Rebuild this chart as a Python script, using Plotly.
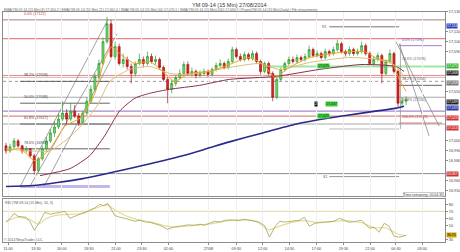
import plotly.graph_objects as go

W, H = 460, 252

# ---------------- data ----------------
bar_idx = list(range(100))
opens = [16995,16990,16994,17000,16995,16990,16992,16985,16970,16982,
         16992,17000,17008,17014,17022,17028,17022,17030,17025,17018,
         17028,17040,17052,17065,17078,17100,17118,17085,17095,17078,
         17082,17075,17068,17078,17082,17078,17085,17080,17082,17074,
         17062,17052,17058,17064,17068,17077,17068,17070,17066,17068,
         17070,17067,17072,17076,17078,17074,17080,17092,17085,17082,
         17087,17083,17088,17080,17070,17078,17068,17044,17062,17072,
         17078,17082,17080,17084,17082,17085,17092,17086,17088,17084,
         17090,17088,17092,17098,17090,17088,17092,17088,17090,17096,
         17088,17078,17082,17086,17068,17080,17088,17070,17038,17040]
closes = [16990,16994,17000,16995,16990,16992,16985,16970,16982,16992,
          17000,17008,17014,17022,17028,17022,17030,17025,17018,17028,
          17040,17052,17065,17078,17100,17118,17085,17095,17078,17082,
          17075,17068,17078,17082,17078,17085,17080,17082,17074,17062,
          17052,17058,17064,17068,17077,17068,17070,17066,17068,17070,
          17067,17072,17076,17078,17074,17080,17092,17085,17082,17087,
          17083,17088,17080,17070,17078,17068,17044,17062,17072,17078,
          17082,17080,17084,17082,17085,17092,17086,17088,17084,17090,
          17088,17092,17098,17090,17088,17092,17088,17090,17096,17088,
          17078,17082,17086,17068,17080,17088,17070,17038,17040,17042]
highs = [16998,16997,17003,17002,16996,16995,16993,16987,16984,16995,
         17004,17012,17020,17028,17040,17032,17038,17036,17028,17030,
         17044,17056,17068,17082,17104,17125,17122,17100,17098,17088,
         17085,17078,17080,17088,17085,17090,17088,17086,17084,17076,
         17064,17062,17066,17072,17080,17080,17074,17072,17071,17073,
         17072,17074,17079,17082,17080,17083,17095,17094,17088,17090,
         17089,17091,17090,17082,17080,17080,17070,17064,17074,17080,
         17085,17085,17087,17086,17088,17096,17094,17091,17090,17093,
         17092,17095,17102,17100,17092,17095,17094,17093,17100,17098,
         17090,17085,17089,17088,17082,17092,17090,17072,17044,17045]
lows = [16987,16988,16992,16993,16987,16988,16983,16966,16968,16980,
        16990,16998,17004,17012,17020,17016,17020,17023,17015,17016,
        17026,17038,17050,17062,17076,17098,17083,17082,17076,17074,
        17072,17058,17065,17076,17074,17076,17078,17077,17072,17060,
        17038,17048,17055,17062,17066,17066,17065,17063,17064,17066,
        17064,17065,17070,17074,17072,17072,17078,17083,17080,17080,
        17081,17081,17078,17067,17068,17066,17040,17042,17060,17070,
        17076,17078,17078,17080,17080,17083,17084,17084,17082,17082,
        17085,17086,17090,17088,17085,17086,17086,17086,17088,17086,
        17076,17076,17080,17058,17066,17078,17068,17034,17034,17036]

# moving averages (bar index, price)
sma200_x = [0, 6.7, 19, 31.4, 43.7, 49.6, 55.3, 63.5, 71.9, 80, 88.1, 96.5, 98.5]
sma200_v = [16954, 16955, 16962, 16973, 16985, 16992, 16999, 17008, 17017, 17023, 17028, 17033, 17035]
sma50_x = [8.4, 15.8, 20.7, 24.4, 28.1, 31.9, 35.6, 40.5, 47.9, 55.3, 66.9, 77.5, 88.1, 96.5, 98.5]
sma50_v = [16965, 16972, 16985, 17005, 17030, 17043, 17048, 17052, 17056, 17062, 17065, 17072, 17077, 17075, 17070]
ema8_x = [0, 3.5, 7.2, 10.9, 14.6, 18.3, 22, 24.4, 26.2, 28.1, 31.9, 35.6, 39.3, 41.7, 45.4, 50.4,
          55.3, 60.2, 64, 66.4, 70.1, 75.1, 82.5, 88.6, 92.3, 95.3, 97.3, 99]
ema8_v = [16990, 16992, 16980, 16992, 17015, 17023, 17048, 17082, 17095, 17088, 17078, 17080, 17068, 17060,
          17068, 17070, 17077, 17084, 17076, 17064, 17074, 17084, 17089, 17090, 17082, 17080, 17062, 17050]
ema21_x = [0, 5.9, 10.9, 14.6, 18.3, 22.5, 25.7, 30.6, 35.6, 40.5, 45.4, 55.3, 62.7, 67.7, 75.1, 84.9, 92.3, 96, 99]
ema21_v = [16992, 16990, 16990, 17000, 17014, 17035, 17060, 17072, 17075, 17068, 17067, 17074, 17078, 17072,
           17079, 17084, 17082, 17077, 17062]

# oscillator (lower panel)
osc_x = [0, 1, 2, 3, 5, 6, 7, 8, 9.6, 11, 12, 13, 14.6, 15.8, 17, 18.3, 19.5, 20.7, 22, 23.2,
         24.2, 25.2, 26.9, 28, 29.4, 30.5, 31.9, 33.1, 34.5, 35.6, 37, 38, 40, 41.5, 43, 45, 46.7, 48, 49.1, 50.5,
         51.6, 53, 54.1, 56, 57.5, 59, 61, 62.7, 64, 65.2, 66.5, 67.7, 69, 70.1, 71.5, 72.6, 73.8, 75.1, 76.3, 77.5,
         79, 81.2, 82.5, 83.7, 84.9, 86.5, 87.9, 89, 89.9, 91.1, 92.3, 93.6, 94.8, 96, 97.3, 98.2, 99]
osc_v = [54.7, 60, 67.2, 63, 61.7, 55, 43.6, 52, 68.6, 66, 67.2, 68, 70, 60.3, 63, 65.8, 68, 71.4, 75, 79.7,
         78, 81.1, 64.4, 62, 60.3, 58, 56.1, 57.5, 55, 54.7, 52, 50.6, 45, 48, 49.2, 51, 50.6, 52, 50.6, 54,
         56.1, 55, 57.5, 58, 57, 58.9, 57, 54.7, 50, 33.9, 48, 56.1, 55, 56.1, 57, 57.5, 61.7, 49.2, 53, 54.7,
         55, 56.1, 60.3, 57, 54.7, 56, 57.5, 52, 46.4, 47.8, 40.8, 53.3, 49.2, 35.3, 33.9, 35, 36.7]
sig_x = [0, 3, 6, 8, 10, 13, 16, 19, 22, 25, 27, 30, 33, 36, 39, 42, 46, 50, 54, 58, 62, 65, 68, 71, 74, 77,
         81, 84, 88, 91, 94, 97, 99]
sig_v = [56, 62, 58, 52, 60, 65, 66, 67, 74, 79, 72, 63, 58, 55, 50, 48, 50, 52, 56, 58, 56, 44, 50, 55, 57, 54,
         56, 57, 54, 47, 47, 38, 36]
osc_level = 70
osc_ticks = [30, 40, 50, 60, 70, 80]

# time axis labels
time_pos = [0.5, 7.4, 13.8, 20.5, 27.2, 33.6, 40.2, 50.1, 57, 63.5, 70.1, 76.8, 83.5, 90.1, 96.5, 103]
time_lbl = ["11:00", "13:30", "16:00", "18:30", "21:00", "23:30", "02:00", "27/08",
            "09:30", "12:00", "14:30", "17:00", "19:30", "22:00", "00:30", "03:00"]

# price axis ticks
price_ticks = [16950, 16960, 16970, 16980, 16990, 17000, 17010, 17020, 17030, 17040,
               17050, 17060, 17070, 17080, 17090, 17100, 17110, 17120, 17130]

# full-width horizontal levels
lvl_price = [17122, 17103, 17066, 17064, 17060, 17044, 17030, 17025, 17017, 16967]
lvl_color = ["#a08080", "#e06666", "#e08a8a", "#d7a0a0", "#9a9a9a", "#a8a8a8", "#a58ad0", "#d66a6a", "#a8a8a8", "#8c8c8c"]
lvl_dash = ["solid", "solid", "solid", "solid", "dot", "solid", "solid", "solid", "solid", "solid"]
lvl_width = [1, 1, 1, 0.8, 1, 1, 1.4, 1, 1, 1]

# partial segments (x0, x1, price)
seg_x0 = [62.7, 80, 97.3, 80, 80, 3.5, 3.5, 3.5, 3.5, 3.5, 97.3, 97.3]
seg_x1 = [108.6, 97.3, 107.9, 97.3, 97.3, 25.7, 25.7, 25.7, 25.7, 25.7, 107.9, 107.9]
seg_price = [17075, 17115, 17056, 17012, 16964, 17060, 17038, 17017, 16992, 16954, 17096, 17018]
seg_color = ["#9be39b", "#666666", "#555555", "#b5b5b5", "#8c8c8c", "#555555", "#555555", "#555555",
             "#555555", "#a99ae6", "#a070c8", "#d66a6a"]
seg_width = [2.2, 1, 1, 1, 1, 1, 1, 1, 1, 3, 1, 1]

# diagonal fan lines (x0, p0, x1, p1)
diag_x0 = [3.5, 5.9, 9.4, 96.5, 97.3]
diag_p0 = [16954, 16954, 16954, 17100, 17098]
diag_x1 = [25.2, 27.5, 26.0, 107.2, 104.7]
diag_p1 = [17122, 17108, 17082, 17015, 17005]

# fib labels
fib_x = [4, 4, 4, 4, 4, 97.5, 97.5, 97.5, 97.5, 97.5]
fib_p = [17124, 17062, 17040, 17019, 16994, 17098, 17079, 17058, 17037, 17020]
fib_txt = ["0.0% (17122)", "38.2% (17058)", "50.0% (17038)", "61.8% (17017)", "78.6% (16992)",
           "0.0% (17096)", "23.6% (17078)", "38.2% (17056)", "61.8% (17035)", "100.0% (17018)"]
fib_col = ["#c04040", "#444444", "#444444", "#444444", "#444444",
           "#8050b0", "#666666", "#666666", "#666666", "#c04040"]

# right-axis price tags
tag_price = [17116, 17075, 17068, 17058, 17039, 17033, 17023, 17013, 16967]
tag_color = ["#2a3fbf", "#33b533", "#222222", "#7a7a7a", "#222222", "#2233aa", "#cc3333", "#cc3333", "#cc3333"]

# ---------------- figure ----------------
XR = [-0.74, 108.64]
fig = go.Figure()

fig.add_trace(go.Candlestick(
    x=bar_idx, open=opens, high=highs, low=lows, close=closes,
    increasing=dict(line=dict(color="#2f9a2f", width=0.7), fillcolor="#78d878"),
    decreasing=dict(line=dict(color="#a81515", width=0.7), fillcolor="#d42626"),
    whiskerwidth=0, showlegend=False, xaxis="x", yaxis="y"))

for xs, vs, col, w in [(sma200_x, sma200_v, "#2a2a8a", 1.6),
                       (sma50_x, sma50_v, "#8a3050", 1.0),
                       (ema21_x, ema21_v, "#d8bf7a", 1.0),
                       (ema8_x, ema8_v, "#f0a020", 1.0)]:
    fig.add_trace(go.Scatter(x=xs, y=vs, mode="lines", line=dict(color=col, width=w, shape="spline", smoothing=0.6),
                             showlegend=False, hoverinfo="skip", xaxis="x", yaxis="y"))

fig.add_trace(go.Scatter(x=sig_x, y=sig_v, mode="lines", line=dict(color="#e6dc98", width=1.2, shape="spline", smoothing=0.5),
                         showlegend=False, xaxis="x2", yaxis="y2"))
fig.add_trace(go.Scatter(x=osc_x, y=osc_v, mode="lines", line=dict(color="#a4a25a", width=0.8),
                         showlegend=False, xaxis="x2", yaxis="y2"))

shapes = []
for p, c, d, w in zip(lvl_price, lvl_color, lvl_dash, lvl_width):
    shapes.append(dict(type="line", xref="x domain", yref="y", x0=0, x1=1, y0=p, y1=p,
                       line=dict(color=c, width=w, dash=d), layer="below"))
for x0, x1, p, c, w in zip(seg_x0, seg_x1, seg_price, seg_color, seg_width):
    shapes.append(dict(type="line", xref="x", yref="y", x0=x0, x1=x1, y0=p, y1=p,
                       line=dict(color=c, width=w), opacity=0.9 if w < 3 else 0.7, layer="below"))
for x0, p0, x1, p1 in zip(diag_x0, diag_p0, diag_x1, diag_p1):
    shapes.append(dict(type="line", xref="x", yref="y", x0=x0, x1=x1, y0=p0, y1=p1,
                       line=dict(color="#8a8a8a", width=0.8), layer="below"))
shapes.append(dict(type="line", xref="x", yref="y", x0=97.6, x1=97.6, y0=17098, y1=17012,
                   line=dict(color="#999999", width=0.8), layer="below"))
shapes.append(dict(type="line", xref="x domain", yref="y2", x0=0, x1=1, y0=osc_level, y1=osc_level,
                   line=dict(color="#e2d9a6", width=1), layer="below"))

ann = []
F = "Liberation Sans, Arial, sans-serif"
ann.append(dict(text="YM 09-14 (15 Min) 27/08/2014", x=0.5, y=1 - 3.5 / H, xref="paper", yref="paper",
                showarrow=False, font=dict(size=5.5, color="#333333", family=F), xanchor="center", yanchor="middle"))
ann.append(dict(text="EMA(YM 09-14 (15 Min),8) 17,050.2 | EMA(YM 09-14 (15 Min),21) 17,062.4 | "
                     "SMA(YM 09-14 (15 Min),50) 17,070.1 | SMA(YM 09-14 (15 Min),200) 17,034.9 | "
                     "Pivots(YM 09-14 (15 Min),Daily) | Fib retracements",
                x=2 / W, y=1 - 8.5 / H, xref="paper", yref="paper", showarrow=False,
                font=dict(size=3.4, color="#666666", family=F), xanchor="left", yanchor="middle"))
for x, p, t, c in zip(fib_x, fib_p, fib_txt, fib_col):
    ann.append(dict(text=t, x=x, y=p, xref="x", yref="y", showarrow=False, xanchor="left", yanchor="bottom",
                    font=dict(size=3.6, color=c, family=F)))
for p, c in zip(tag_price, tag_color):
    ann.append(dict(text=f"{p:,}", x=447 / W, y=p, xref="paper", yref="y", showarrow=False, xanchor="left",
                    yanchor="middle", bgcolor=c, borderpad=0, font=dict(size=3.5, color="white", family=F)))
ann.append(dict(text=f"{osc_v[-1]:.2f}", x=447 / W, y=osc_v[-1], xref="paper", yref="y2", showarrow=False,
                xanchor="left", yanchor="middle", bgcolor="#d0a800", borderpad=0,
                font=dict(size=3.5, color="#222222", family=F)))
ann.append(dict(text="R1", x=80, y=17115, xref="x", yref="y", showarrow=False, xanchor="right",
                font=dict(size=3.6, color="#555555", family=F)))
ann.append(dict(text="S1", x=80, y=16964, xref="x", yref="y", showarrow=False, xanchor="right",
                font=dict(size=3.6, color="#555555", family=F)))
for x, p, t in [(78.5, 17075, "17,075"), (80.5, 17037, "17,037"), (78.5, 17025, "17,025")]:
    ann.append(dict(text=t, x=x, y=p, xref="x", yref="y", showarrow=False, bgcolor="#3fcf3f", borderpad=0,
                    font=dict(size=3.6, color="#113311", family=F)))
ann.append(dict(text="2", x=76.8, y=17037, xref="x", yref="y", showarrow=False, bgcolor="#111111", borderpad=0,
                font=dict(size=3.6, color="white", family=F)))
ann.append(dict(text="Time remaining: 00:04:35", x=445 / W, y=1 - 194 / H, xref="paper", yref="paper",
                showarrow=False, xanchor="right", yanchor="middle", bordercolor="#999999", borderwidth=0.5,
                borderpad=0, bgcolor="white", font=dict(size=3.5, color="#444444", family=F)))
ann.append(dict(text="RSI (YM 09-14 (15 Min), 14, 3)", x=3 / W, y=1 - 203 / H, xref="paper", yref="paper",
                showarrow=False, xanchor="left", yanchor="middle", font=dict(size=3.5, color="#555555", family=F)))
ann.append(dict(text="© 2014 NinjaTrader, LLC", x=2 / W, y=1 - 240 / H, xref="paper", yref="paper",
                showarrow=False, xanchor="left", yanchor="middle", font=dict(size=3.5, color="#555555", family=F)))

# tick labels hidden where a price tag covers them (as in the reference)
shown_ticks = [t for t in price_ticks if all(abs(t - p) > 5 for p in tag_price)]
shown_osc = [t for t in osc_ticks if abs(t - osc_v[-1]) > 5]

xdom = [3 / W, 446 / W]
axis_common = dict(showline=True, linecolor="#8c8c8c", linewidth=1, mirror=True, zeroline=False)

fig.update_layout(
    width=W, height=H, margin=dict(l=0, r=0, t=0, b=0),
    paper_bgcolor="white", plot_bgcolor="white",
    font=dict(family=F, size=4, color="#555555"),
    shapes=shapes, annotations=ann, showlegend=False,
    xaxis=dict(domain=xdom, range=XR, anchor="y", rangeslider=dict(visible=False),
               tickvals=time_pos, showticklabels=False, ticks="", showgrid=True, gridcolor="#f0f0f0",
               gridwidth=1, **axis_common),
    xaxis2=dict(domain=xdom, range=XR, anchor="y2", matches="x", tickvals=time_pos, ticktext=time_lbl,
                ticks="outside", ticklen=2, tickcolor="#8c8c8c", tickfont=dict(size=3.8, color="#444444"),
                showgrid=True, gridcolor="#f0f0f0", **axis_common),
    yaxis=dict(domain=[1 - 196 / H, 1 - 10 / H], range=[16944, 17130], side="right",
               tickvals=shown_ticks, ticktext=[f"{t:,}" for t in shown_ticks], ticks="outside", ticklen=2,
               tickcolor="#8c8c8c", tickfont=dict(size=3.8, color="#444444"), showgrid=False, **axis_common),
    yaxis2=dict(domain=[1 - 242 / H, 1 - 199 / H], range=[27, 86.7], side="right",
                tickvals=shown_osc, ticks="outside", ticklen=2, tickcolor="#8c8c8c",
                tickfont=dict(size=3.8, color="#444444"), showgrid=False, **axis_common),
)

fig.write_html("out.html")
